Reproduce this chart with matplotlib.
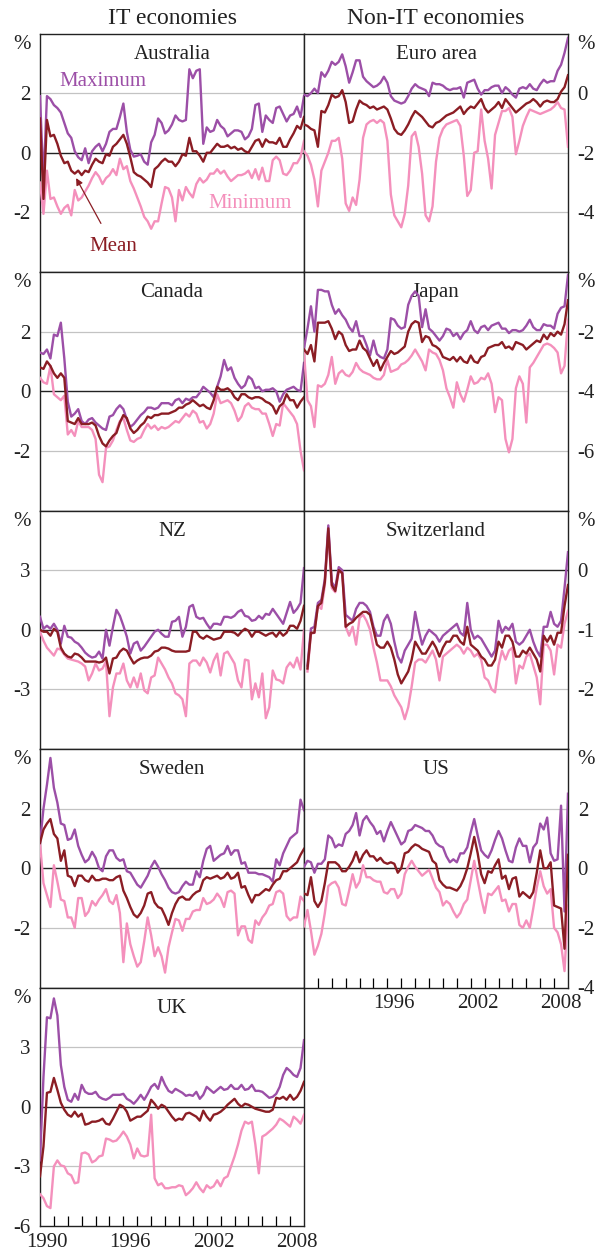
import numpy as np
import matplotlib.pyplot as plt

plt.rcParams['font.family'] = ['Liberation Serif', 'DejaVu Serif']

# quarterly observations, 1990 to end-2008
quarters = 1990 + np.arange(77) / 4

aus_max = [1.9, -1.0, 1.9, 1.8, 1.6, 1.5, 1.35, 1.0, 0.65, 0.5,
           0.05, -0.15, -0.25, 0.15, -0.35, 0.05, 0.2, 0.3, 0.05, 0.3,
           0.7, 0.8, 0.8, 1.2, 1.65, 0.7, 0.1, -0.13, -0.1, -0.05,
           -0.3, -0.4, 0.35, 0.6, 1.15, 1.0, 0.65, 0.75, 0.95, 1.25,
           1.1, 1.05, 1.1, 2.8, 2.5, 2.75, 2.8, 0.3, 0.85, 0.7,
           0.75, 1.1, 0.9, 0.8, 0.55, 0.65, 0.75, 0.75, 0.7, 0.45,
           0.55, 0.8, 1.6, 1.65, 0.7, 1.25, 1.1, 1.0, 1.5, 1.55,
           1.3, 1.05, 1.25, 1.3, 1.55, 1.2, 1.9]
aus_mean = [1.15, -1.55, 1.1, 0.55, 0.6, 0.3, -0.1, -0.35, -0.3, -0.6,
            -0.7, -0.6, -0.75, -0.6, -0.65, -0.4, -0.2, -0.3, -0.35, -0.05,
            -0.1, 0.2, 0.3, 0.45, 0.6, 0.3, -0.15, -0.65, -0.75, -0.8,
            -0.9, -1.0, -1.15, -0.55, -0.45, -0.3, -0.2, -0.3, -0.3, -0.45,
            -0.3, -0.05, -0.1, 0.5, 0.05, 0.05, -0.1, -0.3, 0.0, 0.0,
            0.15, 0.3, 0.2, 0.2, 0.25, 0.15, 0.2, 0.1, 0.15, 0.05,
            0.0, 0.2, 0.4, 0.45, 0.2, 0.45, 0.35, 0.35, 0.3, 0.5,
            0.2, 0.2, 0.45, 0.65, 0.9, 0.8, 1.2]
aus_min = [-1.0, -2.05, -0.6, -1.55, -1.5, -1.8, -2.05, -1.85, -1.75, -2.1,
           -1.25, -1.6, -1.5, -1.3, -1.1, -0.85, -0.65, -0.8, -1.05, -0.85,
           -0.75, -0.55, -0.75, -0.2, -0.55, -0.45, -0.95, -1.2, -1.5, -1.8,
           -2.15, -2.3, -2.55, -2.3, -2.3, -1.7, -1.15, -1.2, -1.5, -2.3,
           -1.25, -1.6, -1.15, -1.35, -1.5, -1.05, -0.85, -1.0, -0.9, -0.7,
           -0.7, -0.55, -0.7, -0.6, -0.8, -0.95, -0.85, -0.75, -0.75, -0.7,
           -0.6, -0.85, -0.55, -0.9, -0.5, -0.95, -0.95, -0.25, -0.13, -0.25,
           -0.7, -0.75, -0.6, -0.35, -0.35, -0.15, 0.4]

can_max = [1.3, 1.25, 1.4, 1.1, 1.9, 1.85, 2.3, 1.1, -0.35, -0.85,
           -0.75, -0.6, -1.0, -1.1, -0.95, -0.9, -1.05, -1.15, -1.25, -1.3,
           -0.85, -0.8, -0.6, -0.47, -0.6, -0.95, -1.2, -1.1, -0.95, -0.8,
           -0.7, -0.55, -0.55, -0.6, -0.55, -0.4, -0.4, -0.4, -0.47, -0.3,
           -0.25, -0.4, -0.25, -0.3, -0.2, -0.2, -0.05, 0.15, 0.05, -0.05,
           -0.2, 0.15, 0.5, 1.05, 0.7, 0.8, 0.45, 0.25, 0.1, 0.2,
           0.5, 0.4, 0.1, 0.15, 0.0, 0.05, 0.05, 0.1, 0.0, -0.35,
           -0.1, 0.05, 0.1, 0.15, 0.05, 0.0, 0.95]
can_mean = [0.8, 0.75, 1.0, 0.85, 0.6, 0.45, 0.6, 0.45, -1.0, -1.05,
            -1.1, -0.9, -1.1, -1.1, -1.1, -1.05, -1.15, -1.5, -1.75, -1.85,
            -1.65, -1.5, -1.4, -1.05, -0.8, -0.9, -1.25, -1.4, -1.3, -1.15,
            -1.05, -0.85, -0.9, -0.8, -0.8, -0.75, -0.75, -0.75, -0.7, -0.65,
            -0.55, -0.55, -0.45, -0.4, -0.3, -0.4, -0.5, -0.45, -0.55, -0.6,
            -0.3, 0.15, 0.05, 0.05, 0.1, 0.0, -0.2, -0.3, -0.1, -0.1,
            -0.2, -0.25, -0.2, -0.2, -0.25, -0.35, -0.4, -0.5, -0.75, -0.5,
            -0.4, -0.1, -0.3, -0.3, -0.55, -0.35, -0.2]
can_min = [0.45, 0.3, 0.25, 0.85, -0.1, -0.2, -0.3, -0.15, -1.45, -1.3,
           -1.5, -1.0, -1.2, -1.2, -1.2, -1.3, -1.6, -2.8, -3.05, -1.9,
           -1.85, -1.65, -1.3, -1.0, -0.9, -1.3, -1.65, -1.7, -1.6, -1.55,
           -1.3, -1.1, -1.25, -1.15, -1.3, -1.2, -1.25, -1.2, -1.1, -1.0,
           -1.05, -0.9, -0.75, -0.85, -0.65, -0.75, -1.05, -1.0, -1.25, -1.1,
           -0.75, -0.1, -0.4, -0.35, -0.3, -0.4, -0.65, -1.0, -0.85, -0.5,
           -0.4, -0.55, -0.6, -0.6, -0.75, -0.75, -1.1, -1.5, -1.1, -1.15,
           -0.4, -0.55, -0.7, -0.85, -1.1, -2.0, -2.65]

nz_max = [0.65, 0.05, 0.2, 0.05, 0.3, 0.0, -0.7, 0.2, -0.35, -0.4,
          -0.6, -0.7, -0.9, -1.15, -1.3, -1.4, -1.35, -1.1, -1.45, 0.0,
          -0.8, 0.15, 1.0, 0.7, 0.2, -0.35, -1.2, -0.7, -0.6, -1.05,
          -0.85, -0.6, -0.35, -0.1, 0.0, -0.2, -0.35, -0.35, 0.4, 0.45,
          0.65, -0.35, 0.15, 1.15, 1.25, 0.65, 0.55, 0.6, 0.3, 0.05,
          0.3, 0.3, 0.25, 0.65, 0.65, 0.6, 0.7, 0.9, 1.0, 0.7,
          0.65, 0.45, 0.5, 0.7, 0.55, 0.8, 0.75, 1.05, 0.8, 0.55,
          0.3, 0.85, 1.4, 0.85, 1.05, 1.35, 3.1]
nz_mean = [0.0, -0.1, -0.1, -0.3, 0.05, -0.1, -0.9, -1.2, -1.35, -1.4,
           -1.2, -1.25, -1.4, -1.6, -1.6, -1.6, -1.6, -1.65, -1.6, -1.4,
           -2.2, -1.45, -1.4, -1.1, -0.95, -1.05, -1.4, -1.7, -1.55, -1.45,
           -1.4, -1.4, -1.3, -1.1, -1.05, -0.9, -0.9, -0.95, -1.05, -1.1,
           -1.1, -1.1, -1.1, -1.05, -0.1, -0.1, -0.35, -0.45, -0.3, -0.4,
           -0.5, -0.45, -0.4, -0.1, -0.1, -0.1, -0.15, -0.3, -0.1, 0.05,
           -0.05, -0.35, -0.1, -0.1, -0.2, -0.3, -0.2, -0.15, -0.35, -0.1,
           -0.3, -0.15, 0.2, 0.2, 0.05, 0.45, 1.2]
nz_min = [-0.1, -0.55, -0.9, -1.1, -1.3, -0.95, -1.0, -1.25, -1.45, -1.5,
          -1.55, -1.6, -1.7, -1.85, -2.55, -2.2, -1.7, -2.05, -1.95, -1.6,
          -4.35, -2.9, -2.2, -2.2, -1.7, -2.55, -2.9, -2.4, -2.9, -2.2,
          -3.05, -3.2, -2.4, -2.3, -1.4, -1.7, -2.0, -2.4, -2.7, -3.2,
          -3.3, -3.5, -4.35, -1.7, -1.55, -1.55, -1.8, -1.4, -1.65, -2.15,
          -1.55, -1.2, -2.3, -1.2, -1.1, -1.4, -1.7, -2.55, -2.9, -1.5,
          -1.55, -3.5, -2.7, -3.4, -2.2, -4.45, -3.9, -2.05, -2.5, -2.55,
          -2.7, -1.9, -1.65, -1.9, -1.4, -2.0, 0.0]

swe_max = [0.85, 2.0, 2.8, 3.7, 2.7, 2.2, 1.5, 1.45, 0.95, 1.0,
           1.3, 0.75, 0.45, 0.2, 0.3, 0.55, 0.35, 0.0, -0.1, 0.4,
           0.6, 0.6, 0.35, 0.25, 0.3, -0.1, -0.15, -0.35, -0.55, -0.65,
           -0.45, -0.25, 0.05, 0.25, 0.05, -0.2, -0.4, -0.65, -0.8, -0.85,
           -0.8, -0.6, -0.45, -0.55, -0.55, -0.1, -0.3, 0.25, 0.65, 0.75,
           0.25, 0.35, 0.45, 0.5, 0.75, 0.45, 0.6, 0.6, 0.15, 0.2,
           -0.15, -0.15, -0.15, -0.2, -0.2, -0.25, -0.3, -0.45, 0.3, 0.1,
           0.5, 0.75, 1.0, 1.1, 1.2, 2.3, 1.95]
swe_mean = [0.85, 1.3, 1.5, 1.65, 1.15, 1.0, 0.25, 0.6, -0.25, -0.3,
            -0.6, -0.25, -0.25, -0.4, -0.45, -0.25, -0.4, -0.4, -0.35, -0.35,
            -0.4, -0.4, -0.3, -0.25, -0.75, -1.0, -1.3, -1.55, -1.65, -1.5,
            -1.25, -0.85, -0.8, -1.15, -1.3, -1.35, -1.6, -1.9, -1.5, -1.2,
            -1.0, -0.95, -1.05, -1.05, -0.9, -0.8, -0.75, -0.4, -0.3, -0.35,
            -0.3, -0.25, -0.35, -0.3, -0.15, -0.35, -0.3, -0.15, -0.65, -0.6,
            -0.9, -1.15, -0.9, -0.9, -0.8, -0.7, -0.75, -0.55, -0.4, -0.35,
            -0.1, -0.1, 0.0, 0.1, 0.2, 0.45, 0.65]
swe_min = [0.85, -0.5, -0.9, -1.3, 0.1, -0.45, -1.05, -1.1, -1.65, -1.65,
           -2.0, -1.0, -1.0, -1.6, -1.45, -1.1, -1.25, -1.05, -0.9, -0.7,
           -1.1, -1.2, -0.9, -1.5, -3.15, -1.85, -2.55, -2.95, -3.3, -3.15,
           -2.45, -1.65, -2.25, -2.95, -2.65, -2.95, -3.5, -2.65, -2.15, -1.7,
           -1.75, -2.1, -1.7, -1.7, -1.45, -1.4, -1.4, -1.0, -1.2, -1.15,
           -1.05, -0.85, -1.0, -1.3, -0.8, -0.75, -0.85, -2.25, -1.95, -1.95,
           -2.4, -2.5, -1.75, -1.9, -1.65, -1.5, -1.25, -1.2, -0.8, -0.75,
           -0.85, -1.6, -1.75, -1.65, -1.65, -0.95, -1.1]

uk_max = [-2.7, 1.5, 4.5, 4.45, 5.45, 4.6, 2.1, 1.0, 0.35, 0.25,
          0.65, 0.35, 1.1, 0.75, 0.65, 0.65, 0.75, 0.5, 0.4, 0.35,
          0.45, 0.6, 0.6, 0.6, 0.65, 0.4, 0.3, 0.15, 0.35, 0.6,
          0.35, 0.65, 1.0, 1.15, 0.9, 1.5, 1.1, 0.8, 0.7, 0.9,
          0.8, 0.7, 0.55, 0.6, 0.55, 0.75, 0.4, 0.6, 1.0, 0.85,
          0.7, 0.85, 1.0, 0.85, 0.9, 1.1, 0.9, 0.9, 1.1, 0.85,
          0.9, 1.1, 0.8, 0.8, 0.75, 0.6, 0.45, 0.5, 0.65, 1.0,
          1.6, 1.95, 1.8, 1.6, 1.5, 1.95, 3.35]
uk_mean = [-3.5, -2.0, 0.7, 0.75, 1.45, 0.85, 0.2, -0.15, -0.4, -0.5,
           -0.25, -0.5, -0.35, -0.9, -0.85, -0.75, -0.75, -0.7, -0.6, -0.85,
           -0.9, -0.6, -0.25, 0.1, 0.0, -0.25, -0.7, -0.6, -0.5, -0.5,
           -0.35, -0.2, 0.35, 0.15, -0.1, 0.1, 0.0, -0.25, -0.5, -0.7,
           -0.6, -0.65, -0.35, -0.3, -0.4, -0.5, -0.7, -0.2, -0.5, -0.7,
           -0.4, -0.35, -0.25, -0.1, 0.1, 0.25, 0.4, 0.15, 0.0, 0.15,
           0.1, 0.0, -0.1, -0.15, -0.2, -0.25, -0.25, -0.15, 0.45, 0.4,
           0.5, 0.35, 0.6, 0.35, 0.5, 0.8, 1.25]
uk_min = [-4.4, -4.6, -5.0, -5.1, -3.0, -2.7, -2.95, -3.0, -3.35, -3.45,
          -3.85, -3.8, -2.35, -2.3, -2.4, -2.8, -2.7, -2.5, -2.45, -1.6,
          -1.65, -1.75, -1.7, -1.5, -1.25, -1.5, -1.9, -2.6, -2.1, -2.45,
          -2.5, -2.45, -0.4, -3.6, -3.95, -3.85, -4.1, -4.1, -4.05, -4.05,
          -3.95, -4.0, -4.45, -4.3, -4.1, -3.8, -4.1, -4.3, -3.95, -4.1,
          -4.0, -3.7, -4.0, -3.6, -3.5, -3.0, -2.5, -1.9, -1.2, -0.75,
          -0.85, -0.75, -1.9, -3.35, -1.5, -1.4, -1.25, -1.1, -0.9, -0.6,
          -0.7, -0.85, -1.0, -0.5, -0.65, -0.85, -0.4]

euro_max = [-0.05, -0.1, 0.0, 0.15, 0.0, 0.7, 0.55, 0.75, 1.05, 0.95,
            1.05, 1.3, 0.9, 0.35, 0.7, 1.1, 1.1, 0.55, 0.4, 0.3,
            0.2, 0.25, 0.35, 0.55, 0.35, -0.1, -0.25, -0.3, -0.35, -0.3,
            -0.1, 0.15, 0.3, 0.2, 0.15, 0.1, -0.1, 0.35, 0.3, 0.3,
            0.25, 0.15, 0.1, 0.15, 0.15, 0.2, -0.15, 0.35, 0.4, 0.45,
            0.15, -0.05, 0.1, 0.1, 0.2, 0.25, 0.25, 0.0, 0.2, 0.1,
            -0.05, -0.15, 0.15, 0.2, 0.15, 0.3, 0.15, 0.1, 0.3, 0.45,
            0.35, 0.4, 0.4, 0.75, 0.95, 1.35, 1.85]
euro_mean = [-1.05, -1.1, -1.2, -1.25, -1.8, -0.6, -0.65, -0.4, -0.05, -0.15,
             -0.1, 0.1, -0.3, -1.0, -0.95, -0.55, -0.25, -0.35, -0.4, -0.5,
             -0.45, -0.55, -0.5, -0.45, -0.55, -0.85, -1.2, -1.35, -1.4, -1.25,
             -1.05, -0.8, -0.6, -0.7, -0.8, -0.95, -1.1, -1.15, -1.0, -0.95,
             -0.85, -0.75, -0.7, -0.65, -0.55, -0.45, -0.7, -0.55, -0.45, -0.5,
             -0.35, -0.2, -0.5, -0.65, -0.55, -0.45, -0.3, -0.5, -0.2, -0.35,
             -0.5, -0.65, -0.55, -0.45, -0.35, -0.3, -0.2, -0.3, -0.45, -0.3,
             -0.25, -0.3, -0.3, -0.2, 0.05, 0.2, 0.6]
euro_min = [-1.95, -2.1, -2.4, -2.9, -3.8, -2.6, -2.3, -2.0, -1.6, -1.6,
            -1.5, -2.2, -3.7, -3.95, -3.5, -3.75, -2.9, -1.5, -1.05, -0.95,
            -0.9, -1.0, -0.9, -1.0, -1.6, -3.4, -4.1, -4.3, -4.5, -4.05,
            -3.1, -1.45, -1.3, -1.8, -2.7, -4.1, -4.3, -3.8, -2.3, -1.5,
            -1.2, -1.05, -1.0, -0.95, -0.9, -1.1, -2.1, -3.45, -3.25, -2.0,
            -1.95, -0.55, -1.6, -2.2, -3.2, -1.4, -1.0, -0.6, -0.6, -0.5,
            -0.8, -2.05, -1.6, -1.1, -0.8, -0.55, -0.6, -0.65, -0.7, -0.65,
            -0.6, -0.55, -0.45, -0.3, -0.5, -0.55, -1.8]

jpn_max = [-2.55, -1.9, -1.15, -2.0, -0.6, -0.6, -0.65, -0.65, -1.1, -1.4,
           -1.25, -1.45, -1.6, -1.85, -2.0, -1.65, -2.15, -2.15, -2.45, -2.8,
           -2.3, -2.75, -2.85, -2.9, -2.6, -1.55, -1.6, -1.8, -1.9, -1.85,
           -1.1, -0.8, -0.65, -0.8, -1.85, -1.25, -1.9, -2.0, -2.15, -2.3,
           -2.15, -1.9, -1.95, -2.15, -2.05, -2.25, -2.05, -1.95, -1.65, -1.95,
           -2.05, -1.85, -1.8, -1.95, -1.8, -1.75, -1.7, -1.9, -1.9, -2.05,
           -1.95, -1.95, -2.0, -1.95, -1.8, -1.6, -1.85, -1.95, -1.95, -1.75,
           -1.8, -1.8, -1.9, -1.4, -1.2, -1.15, -0.1]
jpn_mean = [-2.6, -2.75, -2.45, -3.0, -1.7, -1.7, -1.7, -1.65, -1.9, -2.25,
            -2.0, -2.1, -2.45, -2.65, -2.6, -2.6, -2.3, -2.55, -2.65, -2.9,
            -3.15, -2.95, -3.3, -3.05, -2.85, -2.65, -2.75, -2.7, -2.6, -2.5,
            -2.0, -1.75, -1.65, -1.7, -2.35, -2.15, -2.2, -2.45, -2.5, -2.6,
            -2.85, -2.9, -2.95, -2.85, -3.0, -2.85, -3.0, -3.05, -2.8, -3.0,
            -3.05, -2.85, -2.8, -2.55, -2.5, -2.45, -2.45, -2.35, -2.55, -2.5,
            -2.6, -2.35, -2.4, -2.45, -2.6, -2.5, -2.4, -2.3, -2.35, -2.1,
            -2.25, -2.05, -2.15, -2.0, -2.1, -1.75, -0.95]
jpn_min = [-2.7, -4.3, -4.5, -5.2, -3.8, -3.85, -3.75, -3.45, -2.85, -3.75,
           -3.4, -3.3, -3.45, -3.5, -3.35, -3.05, -3.25, -3.35, -3.4, -3.45,
           -3.55, -3.6, -3.6, -3.45, -2.95, -3.35, -3.3, -3.25, -3.1, -3.05,
           -2.95, -2.8, -2.6, -2.8, -3.0, -3.3, -2.6, -2.7, -2.75, -2.95,
           -3.3, -3.9, -4.2, -4.55, -3.7, -4.1, -4.35, -3.95, -3.5, -3.75,
           -3.7, -3.55, -3.6, -3.4, -3.75, -4.7, -4.2, -4.3, -5.6, -6.05,
           -5.6, -3.9, -3.5, -3.75, -5.05, -3.2, -3.05, -2.85, -2.65, -2.45,
           -2.4, -2.45, -2.55, -2.7, -3.4, -3.15, -1.6]

nan = np.nan
swi_max = [nan, -1.6, -0.98, -0.95, -0.55, -0.5, -0.15, 0.75, -0.2, -0.3,
           0.05, 0.0, -0.75, -0.8, -0.85, -0.65, -0.55, -0.55, -0.6, -0.7,
           -0.95, -1.1, -1.1, -0.85, -0.75, -0.9, -1.2, -1.45, -1.55, -1.35,
           -1.25, -1.15, -0.7, -1.0, -1.25, -1.1, -1.0, -1.05, -1.1, -1.2,
           -1.1, -1.05, -1.0, -0.95, -0.9, -1.05, -1.1, -0.55, -1.0, -1.15,
           -1.1, -1.15, -1.25, -1.35, -1.45, -1.35, -0.85, -1.05, -0.95, -1.0,
           -0.9, -1.2, -1.25, -1.2, -1.1, -1.0, -1.2, -1.35, -1.45, -0.95,
           -0.95, -0.7, -0.9, -0.95, -0.85, -0.3, 0.3]
swi_mean = [nan, -1.65, -1.05, -1.05, -0.6, -0.55, -0.2, 0.7, -0.25, -0.35,
            0.0, -0.05, -0.95, -0.9, -0.87, -0.8, -0.75, -0.7, -0.7, -0.75,
            -1.0, -1.25, -1.3, -1.3, -1.2, -1.3, -1.5, -1.75, -1.9, -1.8,
            -1.7, -1.5, -1.2, -1.3, -1.4, -1.4, -1.3, -1.2, -1.3, -1.45,
            -1.3, -1.2, -1.2, -1.1, -1.1, -1.2, -1.25, -0.95, -1.25, -1.3,
            -1.35, -1.45, -1.5, -1.6, -1.6, -1.5, -1.2, -1.3, -1.1, -1.1,
            -1.2, -1.45, -1.45, -1.35, -1.4, -1.3, -1.4, -1.5, -1.7, -1.1,
            -1.2, -1.1, -1.25, -1.05, -1.05, -0.6, -0.25]
swi_min = [nan, -1.7, -1.07, -1.05, -0.6, -0.65, -0.25, 0.65, -0.3, -0.37,
           -0.02, -0.05, -0.95, -1.1, -0.95, -1.25, -0.8, -0.75, -0.85, -1.0,
           -1.3, -1.55, -1.85, -1.85, -1.85, -1.95, -2.1, -2.2, -2.3, -2.5,
           -2.3, -1.95, -1.55, -1.5, -1.5, -1.55, -1.45, -1.35, -1.5, -1.85,
           -1.45, -1.4, -1.35, -1.3, -1.25, -1.3, -1.4, -1.3, -1.35, -1.45,
           -1.4, -1.5, -1.8, -1.85, -2.0, -2.05, -1.6, -1.35, -1.5, -1.35,
           -1.3, -1.9, -1.6, -1.65, -1.45, -1.4, -1.6, -1.8, -2.25, -1.25,
           -1.25, -1.35, -1.75, -1.25, -1.3, -0.9, -0.68]

us_max = [0.05, 0.25, 0.2, -0.15, 0.15, 0.15, 0.3, 1.1, 1.0, 0.7,
          0.8, 0.75, 1.15, 1.25, 1.45, 1.85, 1.1, 1.6, 1.75, 1.55,
          1.4, 1.15, 1.25, 0.9, 1.25, 1.55, 1.3, 1.05, 0.8, 0.9,
          1.25, 1.3, 1.45, 1.4, 1.35, 1.25, 1.25, 1.1, 0.85, 0.75,
          0.7, 0.4, 0.2, 0.3, 0.2, 0.5, 0.5, 0.7, 1.2, 1.65,
          1.1, 0.6, 0.45, 0.35, 0.6, 0.95, 1.25, 1.0, 0.6, 0.25,
          0.2, 0.7, 1.0, 0.75, 0.75, 0.2, 0.7, 0.85, 1.5, 1.3,
          1.7, 0.5, 0.25, 0.3, 2.1, -1.45, 2.5]
us_mean = [-0.85, -0.9, -0.3, -1.1, -1.3, -1.1, -0.5, 0.2, 0.2, 0.2,
           0.1, -0.1, -0.1, 0.05, 0.25, 0.55, 0.2, 0.45, 0.6, 0.4,
           0.4, 0.25, 0.35, 0.2, 0.15, 0.2, 0.15, -0.15, 0.0, 0.5,
           0.55, 0.7, 0.8, 0.75, 0.65, 0.6, 0.55, 0.25, 0.15, -0.4,
           -0.55, -0.65, -0.65, -0.7, -0.75, -0.6, -0.35, 0.0, 0.5, 1.05,
           0.5, -0.2, -0.5, -0.1, -0.15, 0.1, 0.3, -0.35, -0.25, -0.7,
           -0.35, -0.3, -0.95, -0.8, -0.9, -1.0, -0.8, -0.15, 0.6, 0.0,
           0.0, 0.2, -1.25, -1.3, -1.35, -2.7, 0.45]
us_min = [-1.95, -1.4, -2.1, -2.9, -2.6, -2.2, -1.5, -0.6, -0.5, -0.45,
          -0.65, -1.2, -1.25, -0.75, -0.2, -0.65, -0.45, 0.1, -0.3, -0.3,
          -0.4, -0.45, -0.45, -0.8, -0.85, -0.7, -0.7, -1.0, -0.85, -0.2,
          0.05, 0.25, 0.05, -0.1, -0.25, -0.15, -0.05, -0.35, -0.65, -0.8,
          -1.25, -1.1, -1.2, -1.45, -1.65, -1.5, -1.2, -1.05, -0.4, 0.25,
          -0.4, -1.0, -1.5, -0.85, -0.9, -0.75, -0.6, -1.1, -1.05, -1.45,
          -1.2, -1.2, -1.9, -2.0, -1.75, -2.0, -1.35, -0.65, -0.1, -0.6,
          -0.85, -0.7, -2.0, -2.15, -2.55, -3.45, -1.25]

C_MAX = '#9c4fa7'
C_MEAN = '#8b1d24'
C_MIN = '#f490bc'
LW = 1.7

W, H = 597, 1254
ROW_TOP = [33.5, 272, 510.5, 749, 987.5]
ROW_H = 238.5

fig = plt.figure(figsize=(W / 100, H / 100), dpi=100)


def panel(col, row, title, hi, mid, lo, ylim, ticks, years=None):
    left = 40 if col == 0 else 304
    top = ROW_TOP[row]
    ax = fig.add_axes([left / W, 1 - (top + ROW_H) / H, 264 / W, ROW_H / H])
    ax.plot(quarters, lo, color=C_MIN, lw=LW, zorder=3)
    ax.plot(quarters, hi, color=C_MAX, lw=LW, zorder=4)
    ax.plot(quarters, mid, color=C_MEAN, lw=LW, zorder=5)
    ax.set_xlim(1990, 2009)
    ax.set_ylim(*ylim)

    for t in ticks:
        if t == 0:
            ax.axhline(0, color='#222222', lw=1.0, zorder=2)
        elif ylim[0] < t < ylim[1]:
            ax.axhline(t, color='#c3c3c3', lw=0.9, zorder=1)

    ax.set_yticks(ticks)
    ax.set_yticklabels([f'{t:g}' for t in ticks])
    ax.tick_params(axis='y', length=0, pad=7, labelsize=15, colors='#222222')
    if col == 1:
        ax.yaxis.tick_right()
        ax.annotate('%', xy=(1, 1), xycoords='axes fraction', xytext=(7, -1),
                    textcoords='offset points', ha='left', va='top',
                    fontsize=15, color='#222222')
    else:
        ax.annotate('%', xy=(0, 1), xycoords='axes fraction', xytext=(-7, -1),
                    textcoords='offset points', ha='right', va='top',
                    fontsize=15, color='#222222')

    if years is None:
        ax.tick_params(axis='x', which='both', bottom=False, labelbottom=False)
    else:
        ax.set_xticks(np.arange(1991, 2009), minor=True)
        ax.set_xticks([1990.5, 1996.5, 2002.5, 2008.5])
        ax.set_xticklabels(years)
        ax.tick_params(axis='x', which='minor', direction='in', length=7, width=0.9)
        ax.tick_params(axis='x', which='major', length=0, pad=5, labelsize=15,
                       colors='#222222')

    for s in ax.spines.values():
        s.set_color('#222222')
        s.set_linewidth(1.0)

    ax.annotate(title, xy=(0.5, 1), xycoords='axes fraction', xytext=(0, -8),
                textcoords='offset points', ha='center', va='top',
                fontsize=15, color='#222222')
    return ax


aus = panel(0, 0, 'Australia', aus_max, aus_mean, aus_min, (-4, 4), [2, 0, -2])
panel(0, 1, 'Canada', can_max, can_mean, can_min, (-4, 4), [2, 0, -2])
panel(0, 2, 'NZ', nz_max, nz_mean, nz_min, (-6, 6), [3, 0, -3])
panel(0, 3, 'Sweden', swe_max, swe_mean, swe_min, (-4, 4), [2, 0, -2])
panel(0, 4, 'UK', uk_max, uk_mean, uk_min, (-6, 6), [3, 0, -3, -6],
      years=['1990', '1996', '2002', '2008'])

panel(1, 0, 'Euro area', euro_max, euro_mean, euro_min, (-6, 2), [0, -2, -4])
panel(1, 1, 'Japan', jpn_max, jpn_mean, jpn_min, (-8, 0), [-2, -4, -6])
panel(1, 2, 'Switzerland', swi_max, swi_mean, swi_min, (-3, 1), [0, -1, -2])
panel(1, 3, 'US', us_max, us_mean, us_min, (-4, 4), [2, 0, -2, -4],
      years=['', '1996', '2002', '2008'])

# series labels in the first panel
aus.text(1994.5, 2.4, 'Maximum', color=C_MAX, fontsize=15, ha='center', va='center')
aus.text(2005.1, -1.7, 'Minimum', color=C_MIN, fontsize=15, ha='center', va='center')
aus.annotate('Mean', xy=(1992.6, -0.85), xytext=(1995.3, -3.15),
             color=C_MEAN, fontsize=15, ha='center', va='center',
             arrowprops=dict(arrowstyle='-|>', color=C_MEAN, lw=0.9,
                             shrinkA=9, shrinkB=0, mutation_scale=10))

fig.text(172 / W, 1 - 19 / H, 'IT economies', ha='center', va='center',
         fontsize=17, color='#222222')
fig.text(436 / W, 1 - 19 / H, 'Non-IT economies', ha='center', va='center',
         fontsize=17, color='#222222')

fig.savefig('out.png', dpi=100)
